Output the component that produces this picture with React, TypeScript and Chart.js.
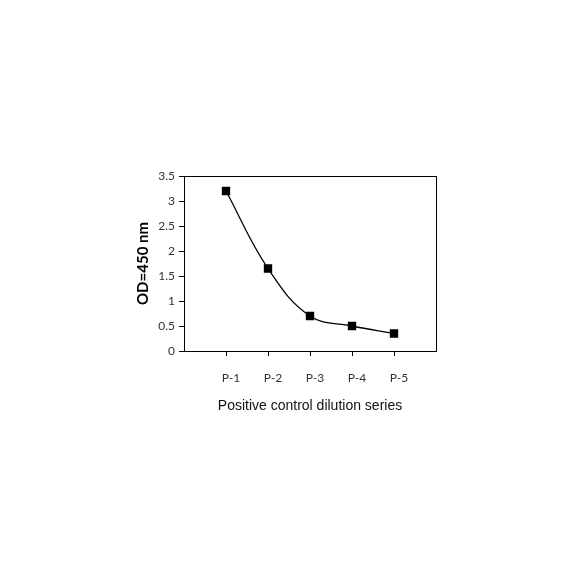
import React, { useEffect, useRef } from "react";
import { Chart, registerables } from "chart.js";

Chart.register(...registerables);

const categories = ["P-1", "P-2", "P-3", "P-4", "P-5"];
const odValues = [3.2, 1.65, 0.7, 0.5, 0.35];
const yTicks = [0, 0.5, 1, 1.5, 2, 2.5, 3, 3.5];
const xTitle = "Positive control dilution series";
const yTitle = "OD=450 nm";

const framePlugin = {
  id: "frame",
  afterDraw(chart: any) {
    const { ctx, chartArea } = chart;
    ctx.save();
    ctx.strokeStyle = "#000";
    ctx.lineWidth = 1;
    ctx.strokeRect(
      Math.round(chartArea.left) + 0.5,
      Math.round(chartArea.top) + 0.5,
      Math.round(chartArea.right - chartArea.left),
      Math.round(chartArea.bottom - chartArea.top)
    );
    ctx.restore();
  },
};

export default function App() {
  const ref = useRef<HTMLCanvasElement>(null);
  useEffect(() => {
    if (!ref.current) return;
    const chart = new Chart(ref.current, {
      type: "line",
      data: {
        datasets: [
          {
            data: odValues.map((v, i) => ({ x: i + 1, y: v })),
            borderColor: "#000",
            backgroundColor: "#000",
            borderWidth: 1.3,
            pointStyle: "rect",
            pointRadius: 5,
            pointHoverRadius: 5,
            tension: 0.4,
          },
        ],
      },
      plugins: [framePlugin],
      options: {
        animation: false,
        responsive: false,
        events: [],
        layout: { padding: { left: 130, top: 176, right: 148, bottom: 169 } },
        plugins: { legend: { display: false }, tooltip: { enabled: false } },
        scales: {
          x: {
            type: "linear",
            min: 0,
            max: categories.length + 1,
            afterBuildTicks: (s: any) => {
              s.ticks = categories.map((_, i) => ({ value: i + 1 }));
            },
            afterFit: (s: any) => {
              s.height = 64;
            },
            border: { color: "#000", width: 1 },
            grid: { drawOnChartArea: false, drawTicks: true, tickLength: 5, color: "#000" },
            ticks: {
              autoSkip: false,
              maxRotation: 0,
              padding: 15,
              labelOffset: 5,
              color: "#333",
              font: { family: "Lato", size: 12 },
              callback: (v: any) => categories[Number(v) - 1] ?? "",
            },
            title: {
              display: true,
              text: xTitle,
              color: "#111",
              font: { family: "Liberation Sans", size: 14 },
              padding: { top: 0, bottom: 0 },
            },
          },
          y: {
            min: 0,
            max: 3.5,
            afterBuildTicks: (s: any) => {
              s.ticks = yTicks.map((v) => ({ value: v }));
            },
            afterFit: (s: any) => {
              s.width = 54;
            },
            border: { color: "#000", width: 1 },
            grid: { drawOnChartArea: false, drawTicks: true, tickLength: 5, color: "#000" },
            ticks: {
              padding: 4,
              color: "#333",
              font: { family: "Lato", size: 12 },
              callback: (v: any) => String(v),
            },
            title: {
              display: true,
              text: yTitle,
              color: "#000",
              font: { family: "Lato", size: 15, weight: "bold" },
              padding: { top: 4, bottom: 0 },
            },
          },
        },
      },
    });
    return () => chart.destroy();
  }, []);
  return (
    <div style={{ position: "absolute", left: 0, top: 0, width: 584, height: 584, background: "#fff" }}>
      <canvas ref={ref} width={584} height={584} />
    </div>
  );
}
